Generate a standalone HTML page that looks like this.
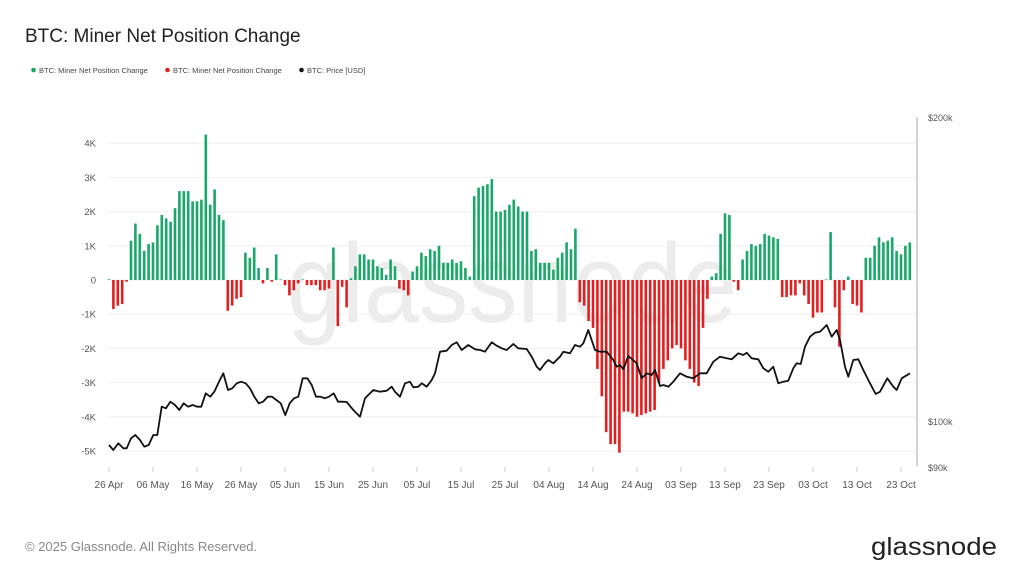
<!DOCTYPE html>
<html><head><meta charset="utf-8"><style>
html,body{margin:0;padding:0;background:#fff;width:1024px;height:576px;overflow:hidden}
svg{display:block}
text{font-family:"Liberation Sans",sans-serif}
</style></head><body>
<svg id="s" width="1024" height="576" viewBox="0 0 1024 576" xmlns="http://www.w3.org/2000/svg">
<rect width="1024" height="576" fill="#fff"/>
<text x="25" y="42" font-size="19" fill="#222">BTC: Miner Net Position Change</text>
<circle cx="33.5" cy="70" r="2.3" fill="#1aa86a"/><text x="39" y="73" font-size="7.5" fill="#444">BTC: Miner Net Position Change</text>
<circle cx="167.5" cy="70" r="2.3" fill="#e02020"/><text x="173" y="73" font-size="7.5" fill="#444">BTC: Miner Net Position Change</text>
<circle cx="301.5" cy="70" r="2.3" fill="#111"/><text x="307" y="73" font-size="7.5" fill="#444">BTC: Price [USD]</text>
<text x="287" y="322" font-size="112" fill="#ececec" textLength="450" lengthAdjust="spacingAndGlyphs">glassnode</text>
<g id="grid"></g>
<line x1="917" y1="117" x2="917" y2="466" stroke="#aaa" stroke-width="1"/>
<text x="928" y="121" font-size="9" fill="#555">$200k</text>
<text x="928" y="425" font-size="9" fill="#555">$100k</text>
<text x="928" y="471" font-size="9" fill="#555">$90k</text>
<g id="bars"></g>
<polyline id="price" fill="none" stroke="#111" stroke-width="1.8" stroke-linejoin="round"/>
<g id="xl"></g>
<text x="25" y="551" font-size="13" fill="#888">© 2025 Glassnode. All Rights Reserved.</text>
<text x="871" y="555" font-size="25" fill="#222" font-weight="500" textLength="126" lengthAdjust="spacingAndGlyphs">glassnode</text>
</svg>
<script>
var NS="http://www.w3.org/2000/svg";
function el(t,a,p,txt){var e=document.createElementNS(NS,t);for(var k in a)e.setAttribute(k,a[k]);if(txt!=null)e.textContent=txt;document.getElementById(p).appendChild(e);return e;}
var Y0=280,K=34.2;
var labs=["4K","3K","2K","1K","0","-1K","-2K","-3K","-4K","-5K"];
for(var i=0;i<10;i++){var v=4-i,y=Y0-v*K;
 el("line",{x1:107,x2:917,y1:y,y2:y,stroke:"#efefef","stroke-width":1},"grid");
 el("text",{x:96,y:y+3.5,"font-size":9.5,fill:"#555","text-anchor":"end"},"grid",labs[i]);}
var d=[0.02,-0.85,-0.75,-0.7,-0.05,1.15,1.65,1.35,0.85,1.05,1.1,1.6,1.9,1.8,1.7,2.1,2.6,2.6,2.6,2.3,2.3,2.35,4.25,2.2,2.65,1.9,1.75,-0.9,-0.75,-0.55,-0.5,0.8,0.65,0.95,0.35,-0.1,0.35,-0.05,0.75,0,-0.15,-0.45,-0.3,-0.1,0,-0.15,-0.15,-0.15,-0.3,-0.3,-0.25,0.95,-1.35,-0.2,-0.8,0.05,0.4,0.75,0.75,0.6,0.6,0.4,0.35,0.15,0.6,0.4,-0.25,-0.3,-0.45,0.25,0.4,0.8,0.7,0.9,0.85,1.0,0.5,0.5,0.6,0.5,0.55,0.35,0.1,2.45,2.7,2.75,2.8,2.95,2.0,2.0,2.05,2.2,2.35,2.15,2.0,2.0,0.85,0.9,0.5,0.5,0.5,0.3,0.65,0.8,1.1,0.9,1.5,-0.65,-0.75,-1.2,-1.4,-2.6,-3.4,-4.45,-4.8,-4.8,-5.05,-3.85,-3.85,-3.9,-4.0,-3.95,-3.9,-3.85,-3.8,-3.0,-2.6,-2.35,-2.0,-1.9,-2.0,-2.35,-2.6,-3.0,-3.1,-1.4,-0.55,0.1,0.2,1.35,1.95,1.9,-0.05,-0.3,0.6,0.85,1.05,1.0,1.05,1.35,1.3,1.25,1.2,-0.5,-0.5,-0.45,-0.45,-0.1,-0.45,-0.7,-1.1,-0.95,-0.95,0,1.4,-0.8,-1.95,-0.3,0.1,-0.7,-0.75,-0.95,0.65,0.65,1.0,1.25,1.1,1.15,1.25,0.85,0.75,1.0,1.1];
for(var i=0;i<d.length;i++){var x=109+4.4*i,v=d[i],h=Math.abs(v)*K;if(h<0.6)h=0.6;
 el("rect",{x:x-1.3,width:2.6,y:v>=0?Y0-h:Y0,height:h,fill:v>=0?"#1aa86a":"#e02020"},"bars");}
var p=[[109,445],[113.3,450],[118.3,443.3],[123.3,448.3],[126.7,448.3],[131,438.3],[135.3,435],[140,440],[144.3,446.7],[148.7,445],[153.3,435],[157.3,435],[161.7,406.7],[166,408.3],[170.3,401.7],[175,405],[179.3,410],[183.7,403.3],[188,406.7],[192.7,405],[197,406.7],[201.3,406.7],[205.7,393.3],[210.3,396.7],[214.3,391.7],[219,381.7],[223.3,373.3],[228,390],[232.3,388.3],[236.7,383.3],[241,381.7],[245.7,383.3],[250,388.3],[254.3,396.7],[258.7,403.3],[263,401.7],[267.7,396.7],[272,396.7],[276.3,400],[280.7,403.3],[285.3,415],[289.7,403.3],[294,398.3],[298.3,396.7],[302.7,378.3],[307.3,378.3],[311.7,385],[316,396.7],[320.3,396.7],[324.7,398.3],[329,396.7],[333.7,393.3],[338,401.7],[342.3,401.7],[346.7,402],[353.3,410],[360,416.7],[365,398.3],[373.3,390],[380,391.7],[386.7,390.7],[391.7,386.7],[395,391.7],[400,396.7],[405,383.3],[410,381.7],[413.3,387.3],[418.3,386.7],[421.7,383.3],[426.7,386.7],[431.7,380],[435,373.3],[440,351.7],[446.7,350.7],[451.7,345],[456.7,342.3],[461.7,350],[468.3,345],[475,349.3],[480,350],[485,351.7],[491.7,342.3],[496.7,345.7],[501.7,348.3],[506.7,350],[513.3,344],[518.3,348.3],[526.7,349],[531.7,356.7],[536.7,366.7],[540,370],[545,363.3],[548.3,360],[553.3,363.3],[560,356.7],[563.3,351.7],[570,353.3],[575,345],[580,346.7],[583.3,343.3],[588.3,330],[595,350],[600,351.7],[606.7,351.7],[613.3,360],[616.7,366.7],[620,365],[623.3,369.3],[628.3,356],[633,360],[636.7,363.3],[641.7,378.3],[646.7,373.3],[651.7,375],[655,370],[660,386],[663.3,385],[668.3,386.7],[673.3,381.7],[680,373.3],[686.7,376.7],[693.3,378.3],[700,373.3],[706.7,373.3],[713.3,361.7],[720,356.7],[726.7,358.3],[731.7,359.3],[738.3,353.3],[743.3,355],[746.7,352.7],[751.7,358.3],[758.3,359.3],[763.3,368.3],[768.3,371.7],[773.3,366.7],[778.3,383.3],[783.3,381.7],[788.3,380.7],[793.3,368.3],[796.7,363.3],[800.7,364],[805,346.7],[810,336.7],[815,332.7],[820,331.7],[826.7,325],[831.7,336.7],[836.7,330],[840,340],[845,366.7],[848.3,376.7],[853.3,360],[858.3,359.3],[863.3,370],[870,383.3],[875.7,394],[880,391.7],[887.3,378.3],[893.3,386.7],[896.7,390],[901.7,378.3],[910,373.3]];
document.getElementById("price").setAttribute("points",p.map(function(a){return a.join(",")}).join(" "));
var xl=["26 Apr","06 May","16 May","26 May","05 Jun","15 Jun","25 Jun","05 Jul","15 Jul","25 Jul","04 Aug","14 Aug","24 Aug","03 Sep","13 Sep","23 Sep","03 Oct","13 Oct","23 Oct"];
for(var i=0;i<xl.length;i++){var x=109+44*i;
 el("line",{x1:x,x2:x,y1:467,y2:472,stroke:"#ccc"},"xl");
 el("text",{x:x,y:488,"font-size":10,fill:"#555","text-anchor":"middle"},"xl",xl[i]);}
</script>
</body></html>
